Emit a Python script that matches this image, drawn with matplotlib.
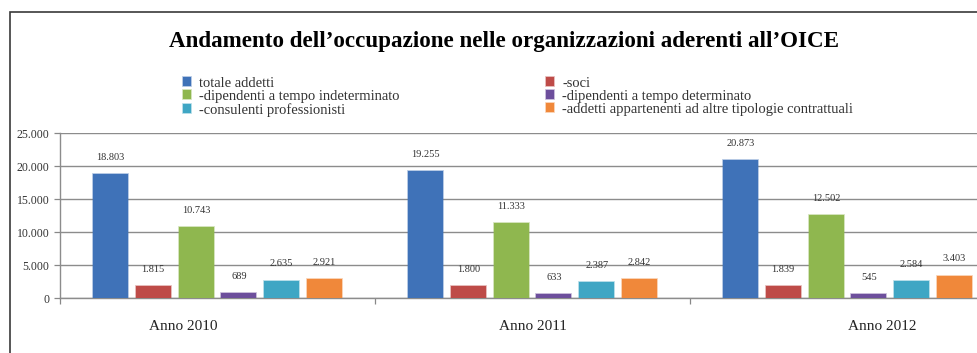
import matplotlib
matplotlib.use("Agg")
import numpy as np
from matplotlib import pyplot as plt
from matplotlib.patches import Rectangle
from matplotlib.ticker import FuncFormatter

# ---- data: OICE staff by year ----
anni = ["Anno 2010", "Anno 2011", "Anno 2012"]
totale_addetti = [18803, 19255, 20873]
soci = [1815, 1800, 1839]
dip_indeterminato = [10743, 11333, 12502]
dip_determinato = [689, 633, 545]
consulenti = [2635, 2387, 2584]
altre_tipologie = [2921, 2842, 3403]

serie = [
    ("totale addetti", totale_addetti, "#3f72b8"),
    ("-soci", soci, "#be4b48"),
    ("-dipendenti a tempo indeterminato", dip_indeterminato, "#8fb74f"),
    ("-dipendenti a tempo determinato", dip_determinato, "#6d4f9c"),
    ("-consulenti professionisti", consulenti, "#3fa6c4"),
    ("-addetti appartenenti ad altre tipologie contrattuali", altre_tipologie, "#f0883a"),
]

plt.rcParams["font.family"] = ["Liberation Serif", "DejaVu Serif"]

fig = plt.figure(figsize=(9.78, 3.53), dpi=100)
ax = fig.add_axes([0.0613, 0.1558, 0.9663, 0.4674])

x = np.arange(len(anni))
step, width = 0.136, 0.111
handles = []
for k, (nome, vals, col) in enumerate(serie):
    pos = x + (k - 2.5) * step
    b = ax.bar(pos, vals, width, color=col, label=nome, zorder=3,
               edgecolor=matplotlib.colors.to_rgba(col, 0.45), linewidth=1.2)
    handles.append(b)
    for xi, v in zip(pos, vals):
        ax.annotate(f"{v:,}".replace(",", "."), (xi, v), xytext=(0, 12),
                    textcoords="offset points", ha="center", va="center",
                    fontsize=7.5, color="#333333")

ax.set_xlim(-0.5, 2.5)
ax.set_ylim(0, 25000)
ax.set_yticks(np.arange(0, 25001, 5000))
ax.yaxis.set_major_formatter(FuncFormatter(lambda v, _: f"{int(v):,}".replace(",", ".")))
ax.set_xticks([-0.5, 0.5, 1.5, 2.5])
ax.set_xticklabels([])
ax.tick_params(axis="both", direction="out", length=4, color="#888888", width=0.9)
ax.tick_params(axis="y", labelsize=8.5, pad=3.5, labelcolor="#333333")
ax.grid(axis="y", color="#8c8c8c", linewidth=1.0, zorder=0)
for s in ("top", "right"):
    ax.spines[s].set_visible(False)
for s in ("left", "bottom"):
    ax.spines[s].set_color("#8c8c8c")
    ax.spines[s].set_linewidth(1.0)

# category names sit a little spread out from the group centres
for i, nome in enumerate(anni):
    ax.text(1 + (i - 1) * 1.11, -0.175, nome, transform=ax.get_xaxis_transform(),
            ha="center", va="center", fontsize=11, color="#222222")

fig.text(0.5155, 1 - 47 / 353, "Andamento dell\u2019occupazione nelle organizzazioni aderenti all\u2019OICE",
         ha="center", va="baseline", fontsize=16.6, fontweight="bold")

order = [0, 2, 4, 1, 3, 5]
fig.legend([handles[i] for i in order], [serie[i][0] for i in order],
           ncol=2, loc="upper left", bbox_to_anchor=(183 / 978, 1 - 77 / 353),
           frameon=False, fontsize=10.5, handlelength=0.55, handleheight=0.55,
           handletextpad=0.55, labelspacing=0.0, columnspacing=10.05,
           borderpad=0.0, borderaxespad=0.0, labelcolor="#333333")

# outer frame, open on the right and bottom
fig.patches.append(Rectangle((10 / 978, -0.05), 1.2, 1 - 12 / 353 + 0.05,
                             transform=fig.transFigure, fill=False,
                             edgecolor="#3a3a3a", linewidth=1.2, zorder=10))

fig.savefig("out.png", dpi=100)
